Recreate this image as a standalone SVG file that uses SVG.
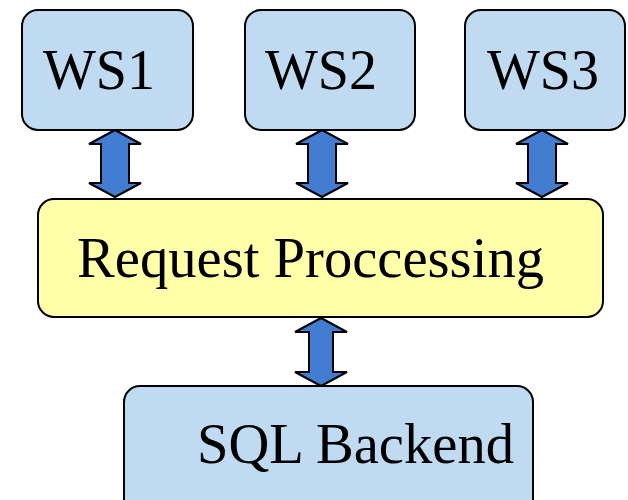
<svg xmlns="http://www.w3.org/2000/svg" width="628" height="500" viewBox="0 0 628 500">
<style>
.box{fill:#C0DAF2;stroke:#000;stroke-width:2}
.req{fill:#FFFFAA;stroke:#000;stroke-width:2}
.arr{fill:#437DD2;stroke:#000;stroke-width:2;stroke-linejoin:miter}
text{font-family:"Liberation Serif","Times New Roman",serif;font-size:56px;fill:#000}
</style>
<rect width="628" height="500" fill="#fff"/>
<g id="connectors">
<polygon class="arr" points="115,130 141,144 129,144 129,183 141,183 115,197 89,183 101,183 101,144 89,144"/>
<polygon class="arr" points="322,130 348,144 336,144 336,183 348,183 322,197 296,183 308,183 308,144 296,144"/>
<polygon class="arr" points="542,130 568,144 556,144 556,183 568,183 542,197 516,183 528,183 528,144 516,144"/>
<polygon class="arr" points="321,318 347,332 333,332 333,372 347,372 321,386 295,372 309,372 309,332 295,332"/>
</g>
<g id="ws1"><rect class="box" x="22" y="10" width="171" height="120" rx="16"/><text x="43" y="89">WS1</text></g>
<g id="ws2"><rect class="box" x="245" y="10" width="170" height="120" rx="16"/><text x="265" y="89">WS2</text></g>
<g id="ws3"><rect class="box" x="465" y="10" width="160" height="120" rx="16"/><text x="487" y="89">WS3</text></g>
<g id="request"><rect class="req" x="38" y="199" width="565" height="118" rx="16"/><text x="77" y="277" textLength="467" lengthAdjust="spacingAndGlyphs">Request Proccessing</text></g>
<g id="sql"><rect class="box" x="124" y="386" width="409" height="130" rx="16"/><text x="197" y="463" textLength="317" lengthAdjust="spacingAndGlyphs">SQL Backend</text></g>
</svg>
